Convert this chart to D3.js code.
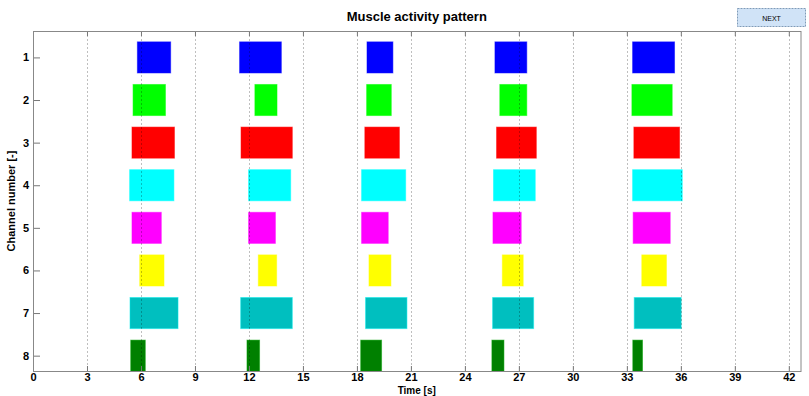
<!DOCTYPE html>
<html>
<head>
<meta charset="utf-8">
<script src="https://cdn.jsdelivr.net/npm/d3@7"></script>
<style>
  body { margin: 0; background: #fff; }
  svg { display: block; font-family: "Liberation Sans", Arial, sans-serif; }
</style>
</head>
<body>
<svg id="chart" width="809" height="396"></svg>
<script>
// channels 1..8 and their colours
const channels = [1, 2, 3, 4, 5, 6, 7, 8];
const channelColors = ["#0000ff", "#00ff00", "#ff0000", "#00ffff", "#ff00ff", "#ffff00", "#00bfbf", "#008000"];

// activity onsets / offsets in seconds, one array per channel, five bursts each
const onsets = [
  [5.80, 11.48, 18.56, 25.67, 33.32],
  [5.56, 12.33, 18.54, 25.94, 33.28],
  [5.50, 11.56, 18.44, 25.76, 33.39],
  [5.37, 11.98, 18.26, 25.59, 33.32],
  [5.50, 11.98, 18.26, 25.56, 33.35],
  [5.93, 12.52, 18.67, 26.08, 33.83],
  [5.39, 11.54, 18.48, 25.54, 33.41],
  [5.43, 11.89, 18.21, 25.50, 33.33]
];
const offsets = [
  [7.65, 13.80, 20.00, 27.44, 35.65],
  [7.36, 13.56, 19.91, 27.44, 35.52],
  [7.86, 14.41, 20.36, 27.97, 35.93],
  [7.83, 14.32, 20.71, 27.91, 36.08],
  [7.13, 13.47, 19.74, 27.13, 35.41],
  [7.28, 13.54, 19.89, 27.24, 35.20],
  [8.06, 14.41, 20.78, 27.82, 36.02],
  [6.24, 12.59, 19.37, 26.17, 33.87]
];

const xTicks = [0, 3, 6, 9, 12, 15, 18, 21, 24, 27, 30, 33, 36, 39, 42];

const svg = d3.select("#chart");
const plotLeft = 33, plotRight = 800.5, plotTop = 31, plotBottom = 371;

const x = d3.scaleLinear().domain([0, 42.65]).range([plotLeft, plotRight]);
const y = d3.scaleLinear().domain([0.38, 8.36]).range([plotTop, plotBottom]);
const barHalf = 0.365;

svg.append("defs").append("clipPath").attr("id", "plotclip")
  .append("rect")
  .attr("x", plotLeft)
  .attr("y", plotTop)
  .attr("width", plotRight - plotLeft)
  .attr("height", plotBottom - plotTop);

// bars
const bars = [];
channels.forEach((ch, i) => {
  onsets[i].forEach((t0, j) => {
    bars.push({ ch: ch, t0: t0, t1: offsets[i][j], color: channelColors[i] });
  });
});

svg.append("g")
  .attr("clip-path", "url(#plotclip)")
  .selectAll("rect")
  .data(bars)
  .join("rect")
  .attr("x", (d) => x(d.t0))
  .attr("y", (d) => y(d.ch - barHalf))
  .attr("width", (d) => x(d.t1) - x(d.t0))
  .attr("height", (d) => y(d.ch + barHalf) - y(d.ch - barHalf))
  .attr("fill", (d) => d.color)
  .attr("stroke", (d) => d3.color(d.color).brighter(0.6).copy({ opacity: 0.5 }))
  .attr("stroke-width", 1);

// vertical grid, drawn above the bars
svg.append("g")
  .selectAll("line")
  .data(xTicks.slice(1))
  .join("line")
  .attr("x1", (d) => Math.round(x(d)) + 0.5)
  .attr("x2", (d) => Math.round(x(d)) + 0.5)
  .attr("y1", plotTop)
  .attr("y2", plotBottom)
  .attr("stroke", "#000")
  .attr("stroke-opacity", 0.25)
  .attr("stroke-dasharray", "2,2");

// axes with inward ticks
const xAxisBottom = d3.axisBottom(x).tickValues(xTicks).tickSizeInner(-5).tickSizeOuter(0).tickPadding(2);
const xAxisTop = d3.axisTop(x).tickValues(xTicks).tickSizeInner(-5).tickSizeOuter(0).tickFormat("");
const yAxisLeft = d3.axisLeft(y).tickValues(channels).tickSizeInner(-7).tickSizeOuter(0).tickPadding(4);

function styleAxis(g) {
  g.select(".domain").remove();
  g.selectAll(".tick line").attr("stroke", "#777");
  g.selectAll("text").attr("font-size", "11px").attr("font-weight", "bold").attr("fill", "#000");
}

svg.append("g").attr("transform", `translate(0,${plotBottom})`).call(xAxisBottom).call(styleAxis);
svg.append("g").attr("transform", `translate(0,${plotTop})`).call(xAxisTop).call(styleAxis);
svg.append("g").attr("transform", `translate(${plotLeft},0)`).call(yAxisLeft).call(styleAxis);

// box
svg.append("rect")
  .attr("x", plotLeft + 0.5)
  .attr("y", plotTop + 0.5)
  .attr("width", plotRight - plotLeft)
  .attr("height", plotBottom - plotTop)
  .attr("fill", "none")
  .attr("stroke", "#888");

// title and labels
svg.append("text")
  .attr("x", (plotLeft + plotRight) / 2)
  .attr("y", 21)
  .attr("text-anchor", "middle")
  .attr("font-size", "13px")
  .attr("font-weight", "bold")
  .text("Muscle activity pattern");

svg.append("text")
  .attr("x", (plotLeft + plotRight) / 2)
  .attr("y", 393.8)
  .attr("text-anchor", "middle")
  .attr("font-size", "10px")
  .attr("font-weight", "bold")
  .text("Time [s]");

svg.append("text")
  .attr("transform", `translate(15,${(plotTop + plotBottom) / 2}) rotate(-90)`)
  .attr("text-anchor", "middle")
  .attr("font-size", "11px")
  .attr("font-weight", "bold")
  .text("Channel number [-]");

// NEXT button
const btn = svg.append("g").attr("transform", "translate(737,8)");
btn.append("rect")
  .attr("x", 0.5)
  .attr("y", 0.5)
  .attr("width", 68)
  .attr("height", 18)
  .attr("fill", "#d0e3f7")
  .attr("stroke", "#7f9bb8")
  .attr("stroke-dasharray", "2,1");
btn.append("text")
  .attr("x", 34.5)
  .attr("y", 13)
  .attr("text-anchor", "middle")
  .attr("font-size", "7px")
  .attr("fill", "#000")
  .text("NEXT");
</script>
</body>
</html>
